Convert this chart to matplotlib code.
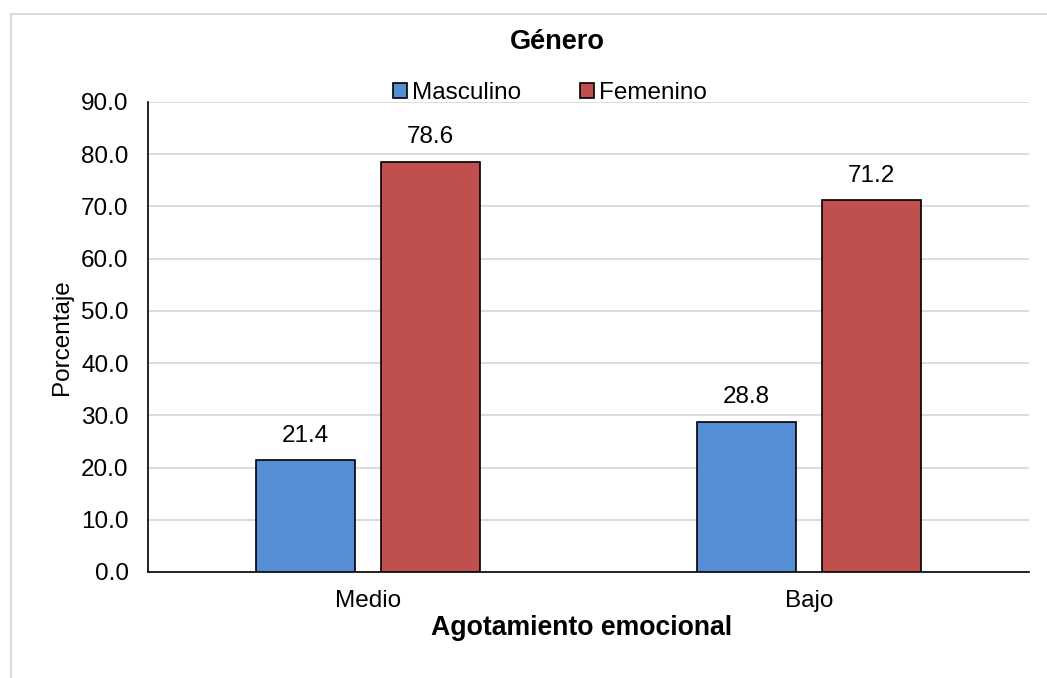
import numpy as np
import matplotlib
matplotlib.use('Agg')
import matplotlib.pyplot as plt
from matplotlib.patches import Rectangle

plt.rcParams['font.family'] = ['Liberation Sans', 'DejaVu Sans']

categorias = ['Medio', 'Bajo']
masculino = [21.4, 28.8]
femenino = [78.6, 71.2]
series = ['Masculino', 'Femenino']
colores = ['#558ED5', '#C0504D']
yticks = np.arange(0, 90.1, 10)

W, H = 1047, 678
fig = plt.figure(figsize=(W / 100, H / 100), dpi=100)

# outer chart border (cut off at right and bottom)
fig.patches.append(Rectangle((11 / W, -1.0), 2.0, 2 - 13.5 / H, transform=fig.transFigure,
                             fill=False, edgecolor='#d9d9d9', linewidth=1.5))

left, right, top, bottom = 148, 1029, 102, 572
ax = fig.add_axes([left / W, 1 - bottom / H, (right - left) / W, (bottom - top) / H])

x = np.arange(len(categorias))
ancho = 0.225
desp = 0.142
b1 = ax.bar(x - desp, masculino, ancho, color=colores[0], edgecolor='black',
            linewidth=1.2, label=series[0], zorder=3)
b2 = ax.bar(x + desp, femenino, ancho, color=colores[1], edgecolor='black',
            linewidth=1.2, label=series[1], zorder=3)

for barras in (b1, b2):
    for r in barras:
        ax.text(r.get_x() + r.get_width() / 2, r.get_height() + 2.6,
                '{:.1f}'.format(r.get_height()), ha='center', va='bottom', fontsize=17.5)

ax.set_xlim(-0.5, 1.5)
ax.set_ylim(0, 90)
ax.set_yticks(yticks)
ax.set_yticklabels(['{:.1f}'.format(v) for v in yticks], fontsize=17.5)
ax.set_xticks(x)
ax.set_xticklabels(categorias, fontsize=17.5)
ax.tick_params(axis='x', length=0, pad=13)
ax.tick_params(axis='y', length=0, pad=14)
ax.grid(axis='y', color='#d9d9d9', linewidth=1.3, zorder=0)
for s in ('top', 'right'):
    ax.spines[s].set_visible(False)
ax.spines['left'].set_color('black')
ax.spines['left'].set_linewidth(1.2)
ax.spines['bottom'].set_color('black')
ax.spines['bottom'].set_linewidth(1.2)

ax.set_ylabel('Porcentaje', fontsize=17.5, labelpad=6)
ax.set_xlabel('Agotamiento emocional', fontsize=19.2, fontweight='bold')
ax.xaxis.set_label_coords((582 - left) / (right - left), -0.091)
ax.xaxis.label.set_va('top')

fig.text(557 / W, 1 - 42 / H, 'Género', ha='center', va='center',
         fontsize=19.5, fontweight='bold')

ax.legend(loc='lower center', bbox_to_anchor=(0.456, 0.975), ncol=2, frameon=False,
          fontsize=17.5, handlelength=0.6, handleheight=0.6, handletextpad=0.2,
          columnspacing=2.4, borderaxespad=0)

fig.savefig('out.png', dpi=100)
